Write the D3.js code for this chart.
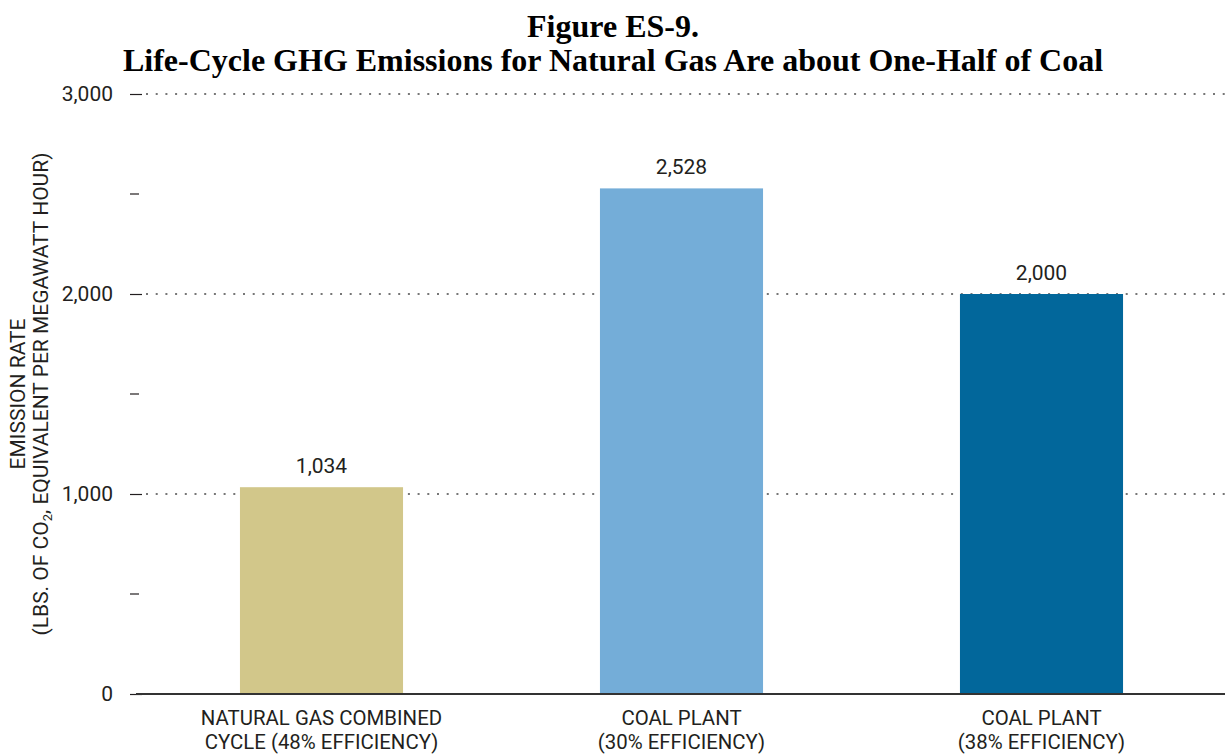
<!DOCTYPE html>
<html>
<head>
<meta charset="utf-8">
<script src="https://cdn.jsdelivr.net/npm/d3@7"></script>
<style>
  html, body { margin: 0; padding: 0; background: #fff; }
  svg { display: block; }
</style>
</head>
<body>
<svg id="chart" width="1225" height="755"></svg>
<script>
// Chart data
const categories = ["ngcc", "coal30", "coal38"];
const categoryLines = [
  ["NATURAL GAS COMBINED", "CYCLE (48% EFFICIENCY)"],
  ["COAL PLANT", "(30% EFFICIENCY)"],
  ["COAL PLANT", "(38% EFFICIENCY)"]
];
const emissionValues = [1034, 2528, 2000];
const valueLabels = ["1,034", "2,528", "2,000"];
const barColors = ["#d2c78a", "#74add8", "#02679b"];
const majorTicks = [0, 1000, 2000, 3000];
const minorTicks = [500, 1500, 2500];
const titleLines = ["Figure ES-9.", "Life-Cycle GHG Emissions for Natural Gas Are about One-Half of Coal"];

const svg = d3.select("#chart");
const sansFont = "Roboto, 'Open Sans', sans-serif";
const labelSize = 21;

const x = d3.scaleBand()
  .domain(categories)
  .range([141.5, 1221.5])
  .paddingInner(0.547)
  .paddingOuter(0.2735);

const y = d3.scaleLinear().domain([0, 3000]).range([694, 94]);

// Title
svg.selectAll("text.title")
  .data(titleLines)
  .join("text")
  .attr("class", "title")
  .attr("x", 613)
  .attr("y", (d, i) => 37 + i * 34)
  .attr("text-anchor", "middle")
  .attr("font-family", "'Liberation Serif', 'Times New Roman', serif")
  .attr("font-weight", "bold")
  .attr("font-size", 32)
  .attr("fill", "#000")
  .text(d => d);

// Dotted gridlines at the major values above zero
svg.append("g")
  .selectAll("line")
  .data(majorTicks.filter(d => d > 0))
  .join("line")
  .attr("x1", 146)
  .attr("x2", 1225)
  .attr("y1", d => y(d))
  .attr("y2", d => y(d))
  .attr("stroke", "#777")
  .attr("stroke-width", 2)
  .attr("stroke-dasharray", "2,7.7");

// Bars
svg.append("g")
  .selectAll("rect")
  .data(categories)
  .join("rect")
  .attr("x", d => x(d))
  .attr("width", x.bandwidth())
  .attr("y", (d, i) => y(emissionValues[i]))
  .attr("height", (d, i) => y(0) - y(emissionValues[i]))
  .attr("fill", (d, i) => barColors[i]);

// Value labels
svg.append("g")
  .selectAll("text")
  .data(categories)
  .join("text")
  .attr("x", d => x(d) + x.bandwidth() / 2)
  .attr("y", (d, i) => y(emissionValues[i]) - 14)
  .attr("text-anchor", "middle")
  .attr("font-family", sansFont)
  .attr("font-size", labelSize)
  .attr("fill", "#231f20")
  .text((d, i) => valueLabels[i]);

// Y axis: major ticks with labels, minor ticks without
const yAxis = d3.axisLeft(y)
  .tickValues(majorTicks)
  .tickSize(12)
  .tickPadding(17)
  .tickFormat(d3.format(","));
const yg = svg.append("g").attr("transform", "translate(142,0)").call(yAxis);
yg.select(".domain").remove();
yg.selectAll(".tick line").attr("stroke", "#231f20").attr("stroke-width", 1.2);
yg.selectAll(".tick text")
  .attr("font-family", sansFont)
  .attr("font-size", labelSize)
  .attr("fill", "#231f20");

svg.append("g")
  .selectAll("line")
  .data(minorTicks)
  .join("line")
  .attr("x1", 130)
  .attr("x2", 139)
  .attr("y1", d => y(d))
  .attr("y2", d => y(d))
  .attr("stroke", "#231f20")
  .attr("stroke-width", 1.2);

// Baseline
svg.append("line")
  .attr("x1", 136)
  .attr("x2", 1225)
  .attr("y1", y(0))
  .attr("y2", y(0))
  .attr("stroke", "#333")
  .attr("stroke-width", 2.2);

// Category labels, one text element per line
const catSize = 20.4;
const catLineData = [];
categories.forEach((c, i) => {
  categoryLines[i].forEach((line, j) => catLineData.push({ c, line, j }));
});
svg.append("g")
  .selectAll("text")
  .data(catLineData)
  .join("text")
  .attr("x", d => x(d.c) + x.bandwidth() / 2)
  .attr("y", d => 725 + d.j * 24)
  .attr("text-anchor", "middle")
  .attr("font-family", sansFont)
  .attr("font-size", catSize)
  .attr("fill", "#231f20")
  .text(d => d.line);

// Y axis title
const yTitle = svg.append("g").attr("transform", "translate(0,394) rotate(-90)");
yTitle.append("text")
  .attr("x", 0)
  .attr("y", 25)
  .attr("text-anchor", "middle")
  .attr("font-family", sansFont)
  .attr("font-size", labelSize)
  .attr("fill", "#231f20")
  .text("EMISSION RATE");
const t2 = yTitle.append("text")
  .attr("x", 0)
  .attr("y", 48)
  .attr("text-anchor", "middle")
  .attr("font-family", sansFont)
  .attr("font-size", labelSize)
  .attr("fill", "#231f20");
t2.append("tspan").text("(LBS. OF CO");
t2.append("tspan").attr("font-size", 13).attr("dy", 4).text("2");
t2.append("tspan").attr("dy", -4).text(", EQUIVALENT PER MEGAWATT HOUR)");
</script>
</body>
</html>
